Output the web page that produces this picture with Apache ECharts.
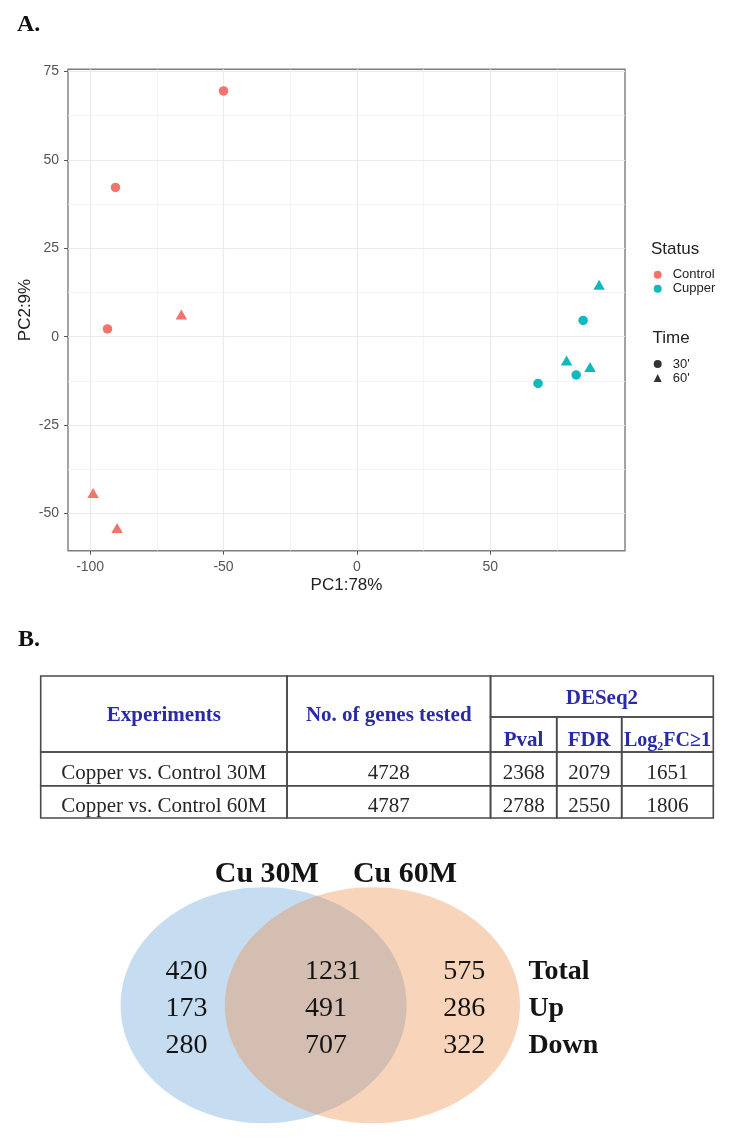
<!DOCTYPE html>
<html><head><meta charset="utf-8">
<script src="https://cdn.jsdelivr.net/npm/echarts@6/dist/echarts.min.js"></script>
<style>html,body{margin:0;padding:0;background:#fff}#c{width:734px;height:1141px}</style>
</head><body><div id="c"></div>
<script>
// ===== Data: PCA (PC1, PC2) =====
const controlT30 = [[-50.0, 69.5], [-90.5, 42.2], [-93.5, 2.2]];
const controlT60 = [[-65.8, 6.3], [-98.9, -44.2], [-89.9, -54.1]];
const cupperT30 = [[84.8, 4.6], [82.2, -10.8], [67.9, -13.2]];
const cupperT60 = [[90.8, 14.7], [78.6, -6.7], [87.4, -8.6]];
const xTicks = [-100, -50, 0, 50];
const yTicks = [-50, -25, 0, 25, 50, 75];
const xMinor = [-75, -25, 25, 75];
const yMinor = [-37.5, -12.5, 12.5, 37.5, 62.5];
const statusNames = ['Control', 'Cupper'];
const timeNames = ["30'", "60'"];

// ===== Data: table =====
const tableHeader = ['Experiments', 'No. of genes tested', 'DESeq2'];
const deseqCols = ['Pval', 'FDR', 'Log\u2082FC\u22651'];
const experiments = ['Copper vs. Control 30M', 'Copper vs. Control 60M'];
const genesTested = [4728, 4787];
const pval = [2368, 2788];
const fdr = [2079, 2550];
const log2fc = [1651, 1806];

// ===== Data: Venn =====
const vennSets = ['Cu 30M', 'Cu 60M'];
const vennRowLabels = ['Total', 'Up', 'Down'];
const only30 = [420, 173, 280];
const both = [1231, 491, 707];
const only60 = [575, 286, 322];

// ===== Layout / style =====
const RED = '#F2756D', CYAN = '#0DBAC0';
const SANS = '"Liberation Sans", Arial, sans-serif';
const SERIF = '"Liberation Serif", "Times New Roman", serif';
const colEdges = [0, 36.62, 66.88, 76.72, 86.38, 100];
const rowEdges = [0, 28.87, 53.52, 77.25, 100];
const cellStyles = {
  head: {font: 'bold 21px ' + SERIF, color: '#2a2aa8', dy: 1.5},
  headTop: {font: 'bold 21px ' + SERIF, color: '#2a2aa8', dy: 2.5},
  sub: {font: 'bold 21px ' + SERIF, color: '#2a2aa8', dy: 6.5},
  subNarrow: {font: 'bold 20px ' + SERIF, color: '#2a2aa8', dy: 6.5},
  body: {font: '21px ' + SERIF, color: '#262626', dy: 5}
};
const vennEllipses = [[35.9, 50.1, 35.75, 50], [63.1, 50.1, 36.9, 50]];
const vennFills = ['rgba(91,155,213,0.35)', 'rgba(237,142,73,0.38)'];
const vennColX = [11.4, 46.25, 80.8, 102.1];
const vennRowY = [36.0, 51.5, 67.2];
const vennTitlePos = [[36.7, -5.4], [71.25, -5.4]];

// build table cells
const tableCells = [];
tableCells.push({c: [0, 1], r: [0, 2], text: tableHeader[0], kind: 'head'});
tableCells.push({c: [1, 2], r: [0, 2], text: tableHeader[1], kind: 'head'});
tableCells.push({c: [2, 5], r: [0, 1], text: tableHeader[2], kind: 'headTop'});
deseqCols.forEach((t, i) => tableCells.push({c: [2 + i, 3 + i], r: [1, 2], text: t, kind: i === 2 ? 'subNarrow' : 'sub'}));
experiments.forEach((e, j) => {
  [e, genesTested[j], pval[j], fdr[j], log2fc[j]].forEach((v, i) =>
    tableCells.push({c: [i, i + 1], r: [2 + j, 3 + j], text: String(v), kind: 'body'}));
});

// build venn texts
const vennTexts = [];
vennSets.forEach((s, i) => vennTexts.push({pos: vennTitlePos[i], text: s, font: 'bold 30px ' + SERIF, align: 'center'}));
vennRowLabels.forEach((lab, r) => {
  vennTexts.push({pos: [vennColX[0], vennRowY[r]], text: String(only30[r]), font: '28px ' + SERIF, align: 'left'});
  vennTexts.push({pos: [vennColX[1], vennRowY[r]], text: String(both[r]), font: '28px ' + SERIF, align: 'left'});
  vennTexts.push({pos: [vennColX[2], vennRowY[r]], text: String(only60[r]), font: '28px ' + SERIF, align: 'left'});
  vennTexts.push({pos: [vennColX[3], vennRowY[r]], text: lab, font: 'bold 28px ' + SERIF, align: 'left'});
});

const chart = echarts.init(document.getElementById('c'), null, {renderer: 'canvas'});

const majorSplit = {show: true, lineStyle: {color: '#ebebeb', width: 1.2}};
const minorSplit = {show: true, lineStyle: {color: '#f1f1f1', width: 0.8}};

const option = {
  backgroundColor: '#fff',
  animation: false,
  graphic: [
    {type: 'text', x: 17, y: 25, style: {text: 'A.', font: 'bold 24px ' + SERIF, fill: '#111', align: 'left', verticalAlign: 'middle'}},
    {type: 'text', x: 18, y: 640, style: {text: 'B.', font: 'bold 24px ' + SERIF, fill: '#111', align: 'left', verticalAlign: 'middle'}},
    {type: 'text', x: 651, y: 249, style: {text: 'Status', font: '17px ' + SANS, fill: '#222', align: 'left', verticalAlign: 'middle'}},
    {type: 'text', x: 652.5, y: 338, style: {text: 'Time', font: '17px ' + SANS, fill: '#222', align: 'left', verticalAlign: 'middle'}}
  ],
  legend: [
    {data: [{name: statusNames[0], icon: 'circle'}, {name: statusNames[1], icon: 'circle'}],
     orient: 'vertical', left: 653.7, top: 267.7, itemWidth: 8, itemHeight: 8, itemGap: 0, padding: 0,
     selectedMode: false,
     textStyle: {fontSize: 13, color: '#222', fontFamily: SANS, lineHeight: 14, padding: [0, 0, 0, 6]}},
    {data: [{name: timeNames[0], icon: 'circle'}, {name: timeNames[1], icon: 'triangle'}],
     orient: 'vertical', left: 653.7, top: 357, itemWidth: 8, itemHeight: 8, itemGap: 0, padding: 0,
     selectedMode: false,
     textStyle: {fontSize: 13, color: '#222', fontFamily: SANS, lineHeight: 14, padding: [0, 0, 0, 6]}}
  ],
  grid: [
    {left: 68, top: 69.3, width: 557, height: 481.4, show: true, borderColor: '#7d7d7d', borderWidth: 1.4, backgroundColor: '#fff', containLabel: false},
    {left: 40.7, top: 676, width: 672.6, height: 142, containLabel: false},
    {left: 120, top: 887, width: 400, height: 236, containLabel: false}
  ],
  xAxis: [
    {type: 'value', gridIndex: 0, min: -108.3, max: 100.5, position: 'bottom',
     name: 'PC1:78%', nameLocation: 'middle', nameGap: 26, nameMoveOverlap: false,
     nameTextStyle: {fontSize: 17, color: '#222', fontFamily: SANS},
     axisLine: {show: false, onZero: false},
     axisTick: {show: true, length: 4, lineStyle: {color: '#555', width: 1}, customValues: xTicks},
     axisLabel: {show: true, fontSize: 14, color: '#555', fontFamily: SANS, margin: 9, customValues: xTicks},
     splitLine: majorSplit},
    {type: 'value', gridIndex: 0, min: -108.3, max: 100.5, position: 'top',
     axisLine: {show: false, onZero: false}, axisTick: {show: false, customValues: xMinor},
     axisLabel: {show: false, customValues: xMinor}, splitLine: minorSplit},
    {type: 'value', gridIndex: 1, min: 0, max: 100, show: false},
    {type: 'value', gridIndex: 2, min: 0, max: 100, show: false}
  ],
  yAxis: [
    {type: 'value', gridIndex: 0, min: -60.5, max: 75.6, position: 'left',
     name: 'PC2:9%', nameLocation: 'middle', nameGap: 34, nameMoveOverlap: false,
     nameTextStyle: {fontSize: 17, color: '#222', fontFamily: SANS},
     axisLine: {show: false, onZero: false},
     axisTick: {show: true, length: 4, lineStyle: {color: '#555', width: 1}, customValues: yTicks},
     axisLabel: {show: true, fontSize: 14, color: '#555', fontFamily: SANS, margin: 9, customValues: yTicks},
     splitLine: majorSplit},
    {type: 'value', gridIndex: 0, min: -60.5, max: 75.6, position: 'right',
     axisLine: {show: false, onZero: false}, axisTick: {show: false, customValues: yMinor},
     axisLabel: {show: false, customValues: yMinor}, splitLine: minorSplit},
    {type: 'value', gridIndex: 1, min: 0, max: 100, inverse: true, show: false},
    {type: 'value', gridIndex: 2, min: 0, max: 100, inverse: true, show: false}
  ],
  series: [
    {name: statusNames[0], type: 'scatter', xAxisIndex: 0, yAxisIndex: 0, data: controlT30,
     symbol: 'circle', symbolSize: 9.5, itemStyle: {color: RED, opacity: 1}, z: 5},
    {name: statusNames[0], type: 'scatter', xAxisIndex: 0, yAxisIndex: 0, data: controlT60,
     symbol: 'triangle', symbolSize: [11.5, 10], itemStyle: {color: RED, opacity: 1}, z: 5},
    {name: statusNames[1], type: 'scatter', xAxisIndex: 0, yAxisIndex: 0, data: cupperT30,
     symbol: 'circle', symbolSize: 9.5, itemStyle: {color: CYAN, opacity: 1}, z: 5},
    {name: statusNames[1], type: 'scatter', xAxisIndex: 0, yAxisIndex: 0, data: cupperT60,
     symbol: 'triangle', symbolSize: [11.5, 10], itemStyle: {color: CYAN, opacity: 1}, z: 5},
    {name: timeNames[0], type: 'scatter', xAxisIndex: 0, yAxisIndex: 0, data: [], symbol: 'circle', itemStyle: {color: '#000'}},
    {name: timeNames[1], type: 'scatter', xAxisIndex: 0, yAxisIndex: 0, data: [], symbol: 'triangle', itemStyle: {color: '#000'}},
    {
      type: 'custom', name: 'table', xAxisIndex: 2, yAxisIndex: 2, clip: false, silent: true,
      data: tableCells.map(c => [colEdges[c.c[0]], colEdges[c.c[1]], rowEdges[c.r[0]], rowEdges[c.r[1]]]),
      renderItem: function (params, api) {
        const cell = tableCells[params.dataIndex];
        const st = cellStyles[cell.kind];
        const p0 = api.coord([api.value(0), api.value(2)]);
        const p1 = api.coord([api.value(1), api.value(3)]);
        return {type: 'group', children: [
          {type: 'rect', shape: {x: p0[0], y: p0[1], width: p1[0] - p0[0], height: p1[1] - p0[1]},
           style: {fill: 'rgba(0,0,0,0)', stroke: '#4a4a4a', lineWidth: 1.6}},
          {type: 'text', style: {text: cell.text, x: (p0[0] + p1[0]) / 2, y: (p0[1] + p1[1]) / 2 + st.dy,
           align: 'center', verticalAlign: 'middle', font: st.font, fill: st.color}}
        ]};
      }
    },
    {
      type: 'custom', name: 'venn', xAxisIndex: 3, yAxisIndex: 3, clip: false, silent: true,
      data: vennEllipses,
      renderItem: function (params, api) {
        const c = api.coord([api.value(0), api.value(1)]);
        const s = api.size([api.value(2), api.value(3)]);
        return {type: 'ellipse', shape: {cx: c[0], cy: c[1], rx: s[0], ry: s[1]},
                style: {fill: vennFills[params.dataIndex], stroke: null}};
      }
    },
    {
      type: 'custom', name: 'vennText', xAxisIndex: 3, yAxisIndex: 3, clip: false, silent: true, z: 10,
      data: vennTexts.map(t => t.pos),
      renderItem: function (params, api) {
        const t = vennTexts[params.dataIndex];
        const c = api.coord([api.value(0), api.value(1)]);
        return {type: 'text', style: {text: t.text, x: c[0], y: c[1], align: t.align, verticalAlign: 'middle', font: t.font, fill: '#141414'}};
      }
    }
  ]
};
chart.setOption(option);
</script></body></html>
